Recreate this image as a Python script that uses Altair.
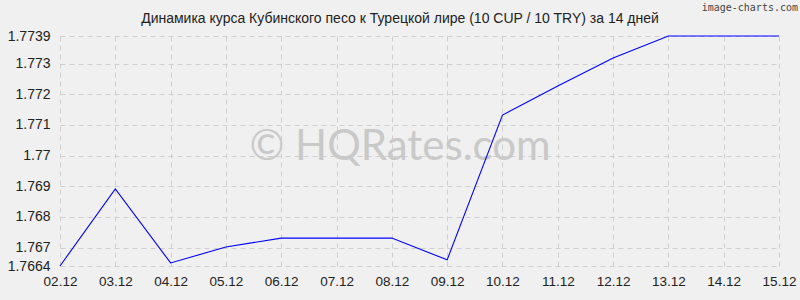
import altair as alt
import pandas as pd

dates = ["02.12", "03.12", "04.12", "05.12", "06.12", "07.12", "08.12",
         "09.12", "10.12", "11.12", "12.12", "13.12", "14.12", "15.12"]
rates = [1.7664, 1.76891, 1.7665, 1.76702, 1.76731, 1.76731, 1.76731,
         1.7666, 1.77132, 1.77227, 1.77318, 1.7739, 1.7739, 1.7739]
y_ticks = [1.7664, 1.767, 1.768, 1.769, 1.77, 1.771, 1.772, 1.773, 1.7739]
title_text = "Динамика курса Кубинского песо к Турецкой лире (10 CUP / 10 TRY) за 14 дней"
watermark = "© HQRates.com"
credit = "image-charts.com"

df = pd.DataFrame({"date": dates, "rate": rates})

W, H = 719, 230

x_enc = alt.X("date:O", sort=dates,
              scale=alt.Scale(padding=0, type="point"),
              axis=alt.Axis(title=None, labelAngle=0, labelFont="Liberation Sans",
                            labelFontSize=13.5, labelColor="#222", labelPadding=8,
                            domain=False, ticks=False, grid=True, gridColor="#cfcfcf",
                            gridDash=[5, 4], gridWidth=1))
y_enc = alt.Y("rate:Q",
              scale=alt.Scale(domain=[1.7664, 1.7739], nice=False, zero=False),
              axis=alt.Axis(title=None, values=y_ticks, labelExpr="'' + datum.value",
                            labelFont="Liberation Sans", labelFontSize=14,
                            labelColor="#222", labelPadding=10, domain=False,
                            ticks=False, grid=True, gridColor="#cfcfcf",
                            gridDash=[5, 4], gridWidth=1, labelOverlap=False))

wm = alt.Chart(pd.DataFrame({"t": [watermark]})).mark_text(
    font="Lato", fontSize=42, color="#c9c9c9", align="center", baseline="middle"
).encode(x=alt.value(340), y=alt.value(111), text="t:N")

line = alt.Chart(df).mark_line(color="#0000ff", strokeWidth=1.1).encode(x=x_enc, y=y_enc)

ttl = alt.Chart(pd.DataFrame({"t": [title_text]})).mark_text(
    font="Liberation Sans", fontSize=14, color="#222", align="center", baseline="alphabetic"
).encode(x=alt.value(340), y=alt.value(-13), text="t:N")

cred = alt.Chart(pd.DataFrame({"t": [credit]})).mark_text(
    font="DejaVu Sans Mono", fontSize=10, color="#444", align="right", baseline="alphabetic"
).encode(x=alt.value(738), y=alt.value(-25), text="t:N")

chart = alt.layer(wm, line, ttl, cred).properties(
    width=W, height=H,
    autosize=alt.AutoSizeParams(type="none"),
    padding={"left": 60, "top": 36, "right": 21, "bottom": 34},
    background="#f0f0f0",
).configure_view(stroke=None).configure_axis(labelFont="Liberation Sans")

chart.save("out.html", embed_options={"renderer": "svg", "actions": False})
